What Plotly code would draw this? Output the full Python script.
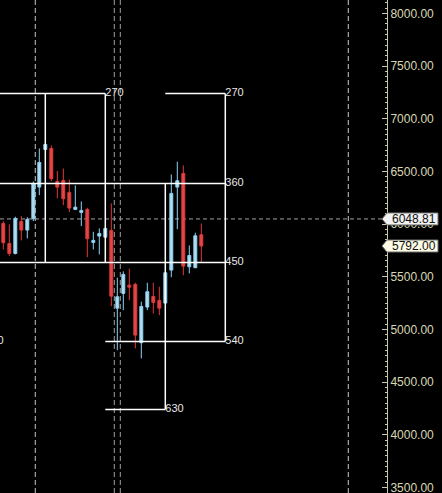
import plotly.graph_objects as go

# ---- data ----
bar_index = list(range(34))
open_ = [6006, 5816, 5721, 6025, 5943, 6051, 6351, 6709, 6718, 6405, 6414, 6301, 6139, 6111, 6139, 5826, 5886,
         5876, 5940, 5202, 5342, 5420, 5427, 4874, 5212, 5313, 5275, 5250, 5563, 6351, 6481, 5595, 5586, 5899]
high = [6028, 5997, 6070, 6076, 6066, 6405, 6718, 6766, 6747, 6503, 6528, 6424, 6367, 6215, 6155, 5927, 5959,
        5968, 6196, 5491, 5551, 5576, 5443, 5263, 5443, 5443, 5405, 5551, 6471, 6592, 6557, 5797, 5918, 6006]
low = [5759, 5696, 5712, 5845, 5864, 6028, 6275, 6699, 6408, 6244, 6180, 6114, 6133, 5981, 5686, 5759, 5712,
       5869, 5221, 4803, 5183, 5278, 4820, 4725, 5183, 5152, 5136, 5237, 5496, 5952, 5515, 5532, 5582, 5633]
close = [5823, 5721, 6054, 5943, 6044, 6386, 6585, 6756, 6431, 6351, 6241, 6152, 6161, 6130, 5861, 5845, 5911,
         5959, 5316, 5310, 5522, 5401, 4946, 5218, 5358, 5256, 5202, 5538, 6291, 6412, 5601, 5702, 5889, 5792]

level_labels = ["270", "360", "450", "540", "630"]
level_prices = [7240, 6386, 5636, 4886, 4240]
# horizontal segments: (level index, bar start, bar end)
h_segments = [(0, -10, 17), (0, 27, 37), (1, -10, 37), (2, -10, 37), (3, 17, 37), (3, -10, -3), (4, 17, 27)]
# vertical segments: (bar, top level index, bottom level index)
v_segments = [(7, 0, 2), (17, 0, 2), (27, 1, 4), (37, 0, 3)]

dashed_vertical_bars = [5.33, 18.5, 19.5, 57.5]
dashed_vertical_colors = ["#c8c8c8", "#a0a0a0", "#a0a0a0", "#c8c8c8"]
ref_price = 6048.81
last_price = 5792.00

x_range = [-0.55, 63.95]
y_range = [3447.0, 8127.5]

fig = go.Figure()

fig.add_trace(go.Candlestick(
    x=bar_index, open=open_, high=high, low=low, close=close,
    increasing=dict(line=dict(color="#8fd3f5", width=1), fillcolor="#b0dcec"),
    decreasing=dict(line=dict(color="#e23b3b", width=1), fillcolor="#e04848"),
    hoverinfo="skip", showlegend=False,
))

shapes = []
for xb, col in zip(dashed_vertical_bars, dashed_vertical_colors):
    shapes.append(dict(type="line", xref="x", yref="paper", x0=xb, x1=xb, y0=0, y1=1,
                       line=dict(color=col, width=1, dash="5px,3px"), layer="below"))
shapes.append(dict(type="line", xref="paper", yref="y", x0=0, x1=1, y0=ref_price, y1=ref_price,
                   line=dict(color="#a0a0a0", width=1, dash="4px,3px"), layer="below"))

for li, xs, xe in h_segments:
    p = level_prices[li]
    shapes.append(dict(type="line", xref="x", yref="y", x0=xs, x1=xe, y0=p, y1=p,
                       line=dict(color="white", width=1.5)))
for xb, lt, lb in v_segments:
    shapes.append(dict(type="line", xref="x", yref="y", x0=xb, x1=xb,
                       y0=level_prices[lt], y1=level_prices[lb],
                       line=dict(color="white", width=1.5)))

# price tags at the axis
for price, fill in [(ref_price, "#f2f2f2"), (last_price, "#fbfbe6")]:
    shapes.append(dict(type="path", xref="paper", yref="y", xsizemode="pixel", ysizemode="pixel",
                       xanchor=1, yanchor=price,
                       path="M -5 0 L 0 6 L 51 6 L 51 -6 L 0 -6 Z",
                       fillcolor=fill, line=dict(color="#707070", width=1)))

# labels of the levels
lab_x = [xe for li, xs, xe in h_segments]
lab_y = [level_prices[li] for li, xs, xe in h_segments]
lab_t = [level_labels[li] for li, xs, xe in h_segments]
fig.add_trace(go.Scatter(x=lab_x, y=lab_y, text=lab_t, mode="text", textposition="middle right",
                         textfont=dict(color="#e8e8e8", size=11, family="Liberation Sans"),
                         cliponaxis=True, hoverinfo="skip", showlegend=False))

annotations = []
for price in [ref_price, last_price]:
    annotations.append(dict(xref="paper", yref="y", x=1, y=price, xanchor="left", yanchor="middle",
                            xshift=3, showarrow=False, text=f"{price:.2f}",
                            font=dict(color="#101010", size=12, family="Liberation Sans")))

fig.update_layout(
    width=442, height=493,
    margin=dict(l=0, r=55, t=0, b=0, autoexpand=False),
    paper_bgcolor="black", plot_bgcolor="black",
    shapes=shapes, annotations=annotations,
    showlegend=False,
    xaxis=dict(range=x_range, visible=False, rangeslider=dict(visible=False), fixedrange=True,
               automargin=False),
    yaxis=dict(range=y_range, side="right", showgrid=False, zeroline=False, automargin=False,
               tick0=3500, dtick=500, tickformat=".2f", ticklabeloverflow="allow",
               ticks="inside", ticklen=5, tickcolor="#c8c8a8", tickwidth=1,
               showline=True, linecolor="#c8c8a8", linewidth=1,
               minor=dict(dtick=50, ticks="inside", ticklen=2, tickcolor="#c8c8a8"),
               tickfont=dict(color="#d8d8b4", size=12, family="Liberation Sans"),
               fixedrange=True),
)

fig.write_html("out.html", config={"displayModeBar": False},
               post_script="document.body.style.margin='0';document.body.style.background='black';")
